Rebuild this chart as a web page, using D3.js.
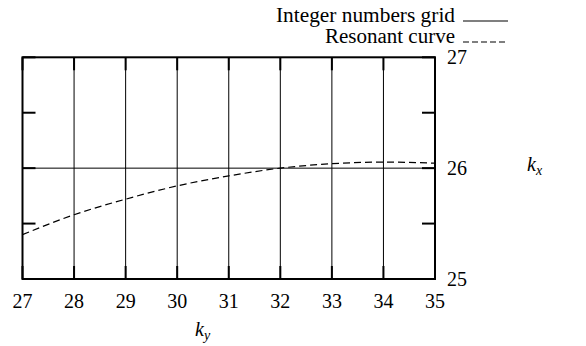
<!DOCTYPE html>
<html>
<head>
<meta charset="utf-8">
<script src="https://cdn.jsdelivr.net/npm/d3@7"></script>
<style>
  body { margin: 0; background: #fff; }
  text { font-family: "Liberation Serif", "DejaVu Serif", serif; fill: #000; }
</style>
</head>
<body>
<script>
const width = 586;
const height = 346;

// k_y on the horizontal axis, k_x on the vertical axis
const kyTicks = [27, 28, 29, 30, 31, 32, 33, 34, 35];
const kxTicks = [25, 26, 27];
const kxMinor = [25.5, 26.5];
const gridKy = [28, 29, 30, 31, 32, 33, 34];
const gridKx = [26];

// resonant curve
const curveKy = [27, 28, 29, 30, 31, 32, 33, 34, 35];
const curveKx = [25.40, 25.58, 25.72, 25.84, 25.93, 26.00, 26.04, 26.055, 26.045];

const legendLabels = ["Integer numbers grid", "Resonant curve"];
const legendWidths = [179, 130];

const margin = {left: 22.5, right: 151, top: 57.3, bottom: 67};

const x = d3.scaleLinear()
    .domain([27, 35])
    .range([margin.left, width - margin.right]);
const y = d3.scaleLinear()
    .domain([25, 27])
    .range([height - margin.bottom, margin.top]);

const svg = d3.select('body')
    .append('svg')
    .attr('width', width)
    .attr('height', height);

// grid
svg.append('g')
    .attr('stroke', '#000')
    .attr('stroke-width', 1)
    .selectAll('line')
    .data(gridKy)
    .join('line')
    .attr('x1', d => x(d)).attr('x2', d => x(d))
    .attr('y1', y(25)).attr('y2', y(27));

svg.append('g')
    .attr('stroke', '#000')
    .attr('stroke-width', 1)
    .selectAll('line')
    .data(gridKx)
    .join('line')
    .attr('x1', x(27)).attr('x2', x(35))
    .attr('y1', d => y(d)).attr('y2', d => y(d));

// tics (inward, both sides)
const tl = 13;
const tics = svg.append('g').attr('stroke', '#000').attr('stroke-width', 2);
kyTicks.forEach(d => {
    tics.append('line').attr('x1', x(d)).attr('x2', x(d)).attr('y1', y(25)).attr('y2', y(25) - tl);
    tics.append('line').attr('x1', x(d)).attr('x2', x(d)).attr('y1', y(27)).attr('y2', y(27) + tl);
});
kxTicks.concat(kxMinor).forEach(d => {
    tics.append('line').attr('x1', x(27)).attr('x2', x(27) + tl).attr('y1', y(d)).attr('y2', y(d));
    tics.append('line').attr('x1', x(35)).attr('x2', x(35) - tl).attr('y1', y(d)).attr('y2', y(d));
});

// curve
const line = d3.line()
    .x(d => x(d[0]))
    .y(d => y(d[1]))
    .curve(d3.curveMonotoneX);

svg.append('path')
    .datum(d3.zip(curveKy, curveKx))
    .attr('d', line)
    .attr('fill', 'none')
    .attr('stroke', '#000')
    .attr('stroke-width', 1.2)
    .attr('stroke-dasharray', '7,4');

// border
svg.append('rect')
    .attr('x', x(27)).attr('y', y(27))
    .attr('width', x(35) - x(27))
    .attr('height', y(25) - y(27))
    .attr('fill', 'none')
    .attr('stroke', '#000')
    .attr('stroke-width', 2);

// tick labels
svg.append('g')
    .selectAll('text')
    .data(kyTicks)
    .join('text')
    .attr('x', d => x(d))
    .attr('y', 308)
    .attr('text-anchor', 'middle')
    .attr('font-size', 20)
    .text(d => d);

svg.append('g')
    .selectAll('text')
    .data(kxTicks)
    .join('text')
    .attr('x', x(35) + 12)
    .attr('y', d => y(d) + 7)
    .attr('font-size', 20)
    .text(d => d);

// axis titles
const kyLabel = svg.append('text')
    .attr('x', 195)
    .attr('y', 336)
    .attr('font-size', 20)
    .attr('font-style', 'italic');
kyLabel.append('tspan').text('k');
kyLabel.append('tspan').attr('font-size', 14).attr('dy', 4).text('y');

const kxLabel = svg.append('text')
    .attr('x', 527)
    .attr('y', 171)
    .attr('font-size', 20)
    .attr('font-style', 'italic');
kxLabel.append('tspan').text('k');
kxLabel.append('tspan').attr('font-size', 14).attr('dy', 4).text('x');

// legend
const legendY = [21, 42];
svg.append('g')
    .selectAll('text')
    .data(legendLabels)
    .join('text')
    .attr('x', (d, i) => 455 - legendWidths[i])
    .attr('y', (d, i) => legendY[i] + 1)
    .attr('textLength', (d, i) => legendWidths[i])
    .attr('lengthAdjust', 'spacingAndGlyphs')
    .attr('font-size', 20)
    .text(d => d);

svg.append('line')
    .attr('x1', 463).attr('x2', 508)
    .attr('y1', legendY[0]).attr('y2', legendY[0])
    .attr('stroke', '#000').attr('stroke-width', 1.2);
svg.append('line')
    .attr('x1', 463).attr('x2', 508)
    .attr('y1', legendY[1]).attr('y2', legendY[1])
    .attr('stroke', '#000').attr('stroke-width', 1.2)
    .attr('stroke-dasharray', '6,3');
</script>
</body>
</html>
